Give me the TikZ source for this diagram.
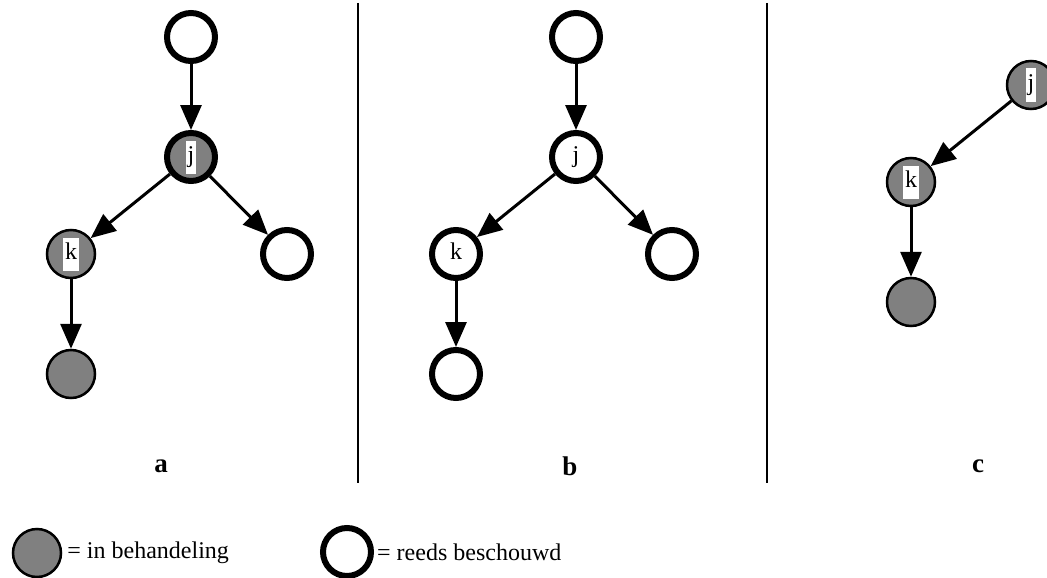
\documentclass[tikz,border=0pt]{standalone}
\usepackage{fontspec}
\setmainfont{Liberation Serif}
\usetikzlibrary{arrows.meta}
\definecolor{busyGray}{HTML}{808080}
\newcommand{\lab}[1]{{\setlength{\fboxsep}{2pt}\colorbox{white}{\strut#1}}}

\begin{document}
\begin{tikzpicture}[
    x=1pt, y=-1pt,
    every node/.style={font=\fontsize{24}{29}\selectfont},
    busy/.style={circle, draw, fill=busyGray, line width=2.5pt, minimum size=48pt, inner sep=0pt},
    done/.style={circle, draw, fill=white, line width=6pt, minimum size=48pt, inner sep=0pt},
    both/.style={busy, line width=6pt},
    edge/.style={line width=3pt, -{Triangle[length=25pt, width=21pt]}},
    panel/.style={font=\fontsize{27}{32}\selectfont\bfseries}
  ]
  \useasboundingbox (0,0) rectangle (1047,578);

  % ── separators ──────────────────────────────────────────────────────────
  \draw[line width=1.2pt] (358,3) -- (358,483);
  \draw[line width=1.2pt] (767,3) -- (767,483);

  % ── a ───────────────────────────────────────────────────────────────────
  \node[done] (a0) at (191,37)  {};
  \node[both] (aj) at (191,157) {\lab{j}};
  \node[busy] (ak) at (71,254)  {\lab{k}};
  \node[done] (ar) at (287,254) {};
  \node[busy] (ab) at (71,374)  {};
  \draw[edge] (a0) -- (aj);
  \draw[edge] (aj) -- (ak);
  \draw[edge] (aj) -- (ar);
  \draw[edge] (ak) -- (ab);
  \node[panel] at (161,466) {a};

  % ── b: everything already visited ───────────────────────────────────────
  \begin{scope}[xshift=385pt]
    \node[done] (b0) at (191,37)  {};
    \node[done] (bj) at (191,157) {\strut j};
    \node[done] (bk) at (71,254)  {\strut k};
    \node[done] (br) at (287,254) {};
    \node[done] (bb) at (71,374)  {};
    \draw[edge] (b0) -- (bj);
    \draw[edge] (bj) -- (bk);
    \draw[edge] (bj) -- (br);
    \draw[edge] (bk) -- (bb);
    \node[panel] at (185,466) {b};
  \end{scope}

  % ── c: subtree below j ──────────────────────────────────────────────────
  \begin{scope}[xshift=840pt, yshift=72pt]
    \node[busy] (cj) at (191,157) {\lab{j}};
    \node[busy] (ck) at (71,254)  {\lab{k}};
    \node[busy] (cb) at (71,374)  {};
    \draw[edge] (cj) -- (ck);
    \draw[edge] (ck) -- (cb);
  \end{scope}
  \node[panel] at (978,466) {c};

  % ── legend ──────────────────────────────────────────────────────────────
  \node[busy] (lbusy) at (37,553) {};
  \node[anchor=west, inner sep=0pt] (tbusy) at ([xshift=5pt]lbusy.east) {= in behandeling};
  \node[done] (ldone) at (347,552) {};
  \node[anchor=west, inner sep=0pt] (tdone) at ([xshift=3pt]ldone.east) {= reeds beschouwd};
\end{tikzpicture}
\end{document}
